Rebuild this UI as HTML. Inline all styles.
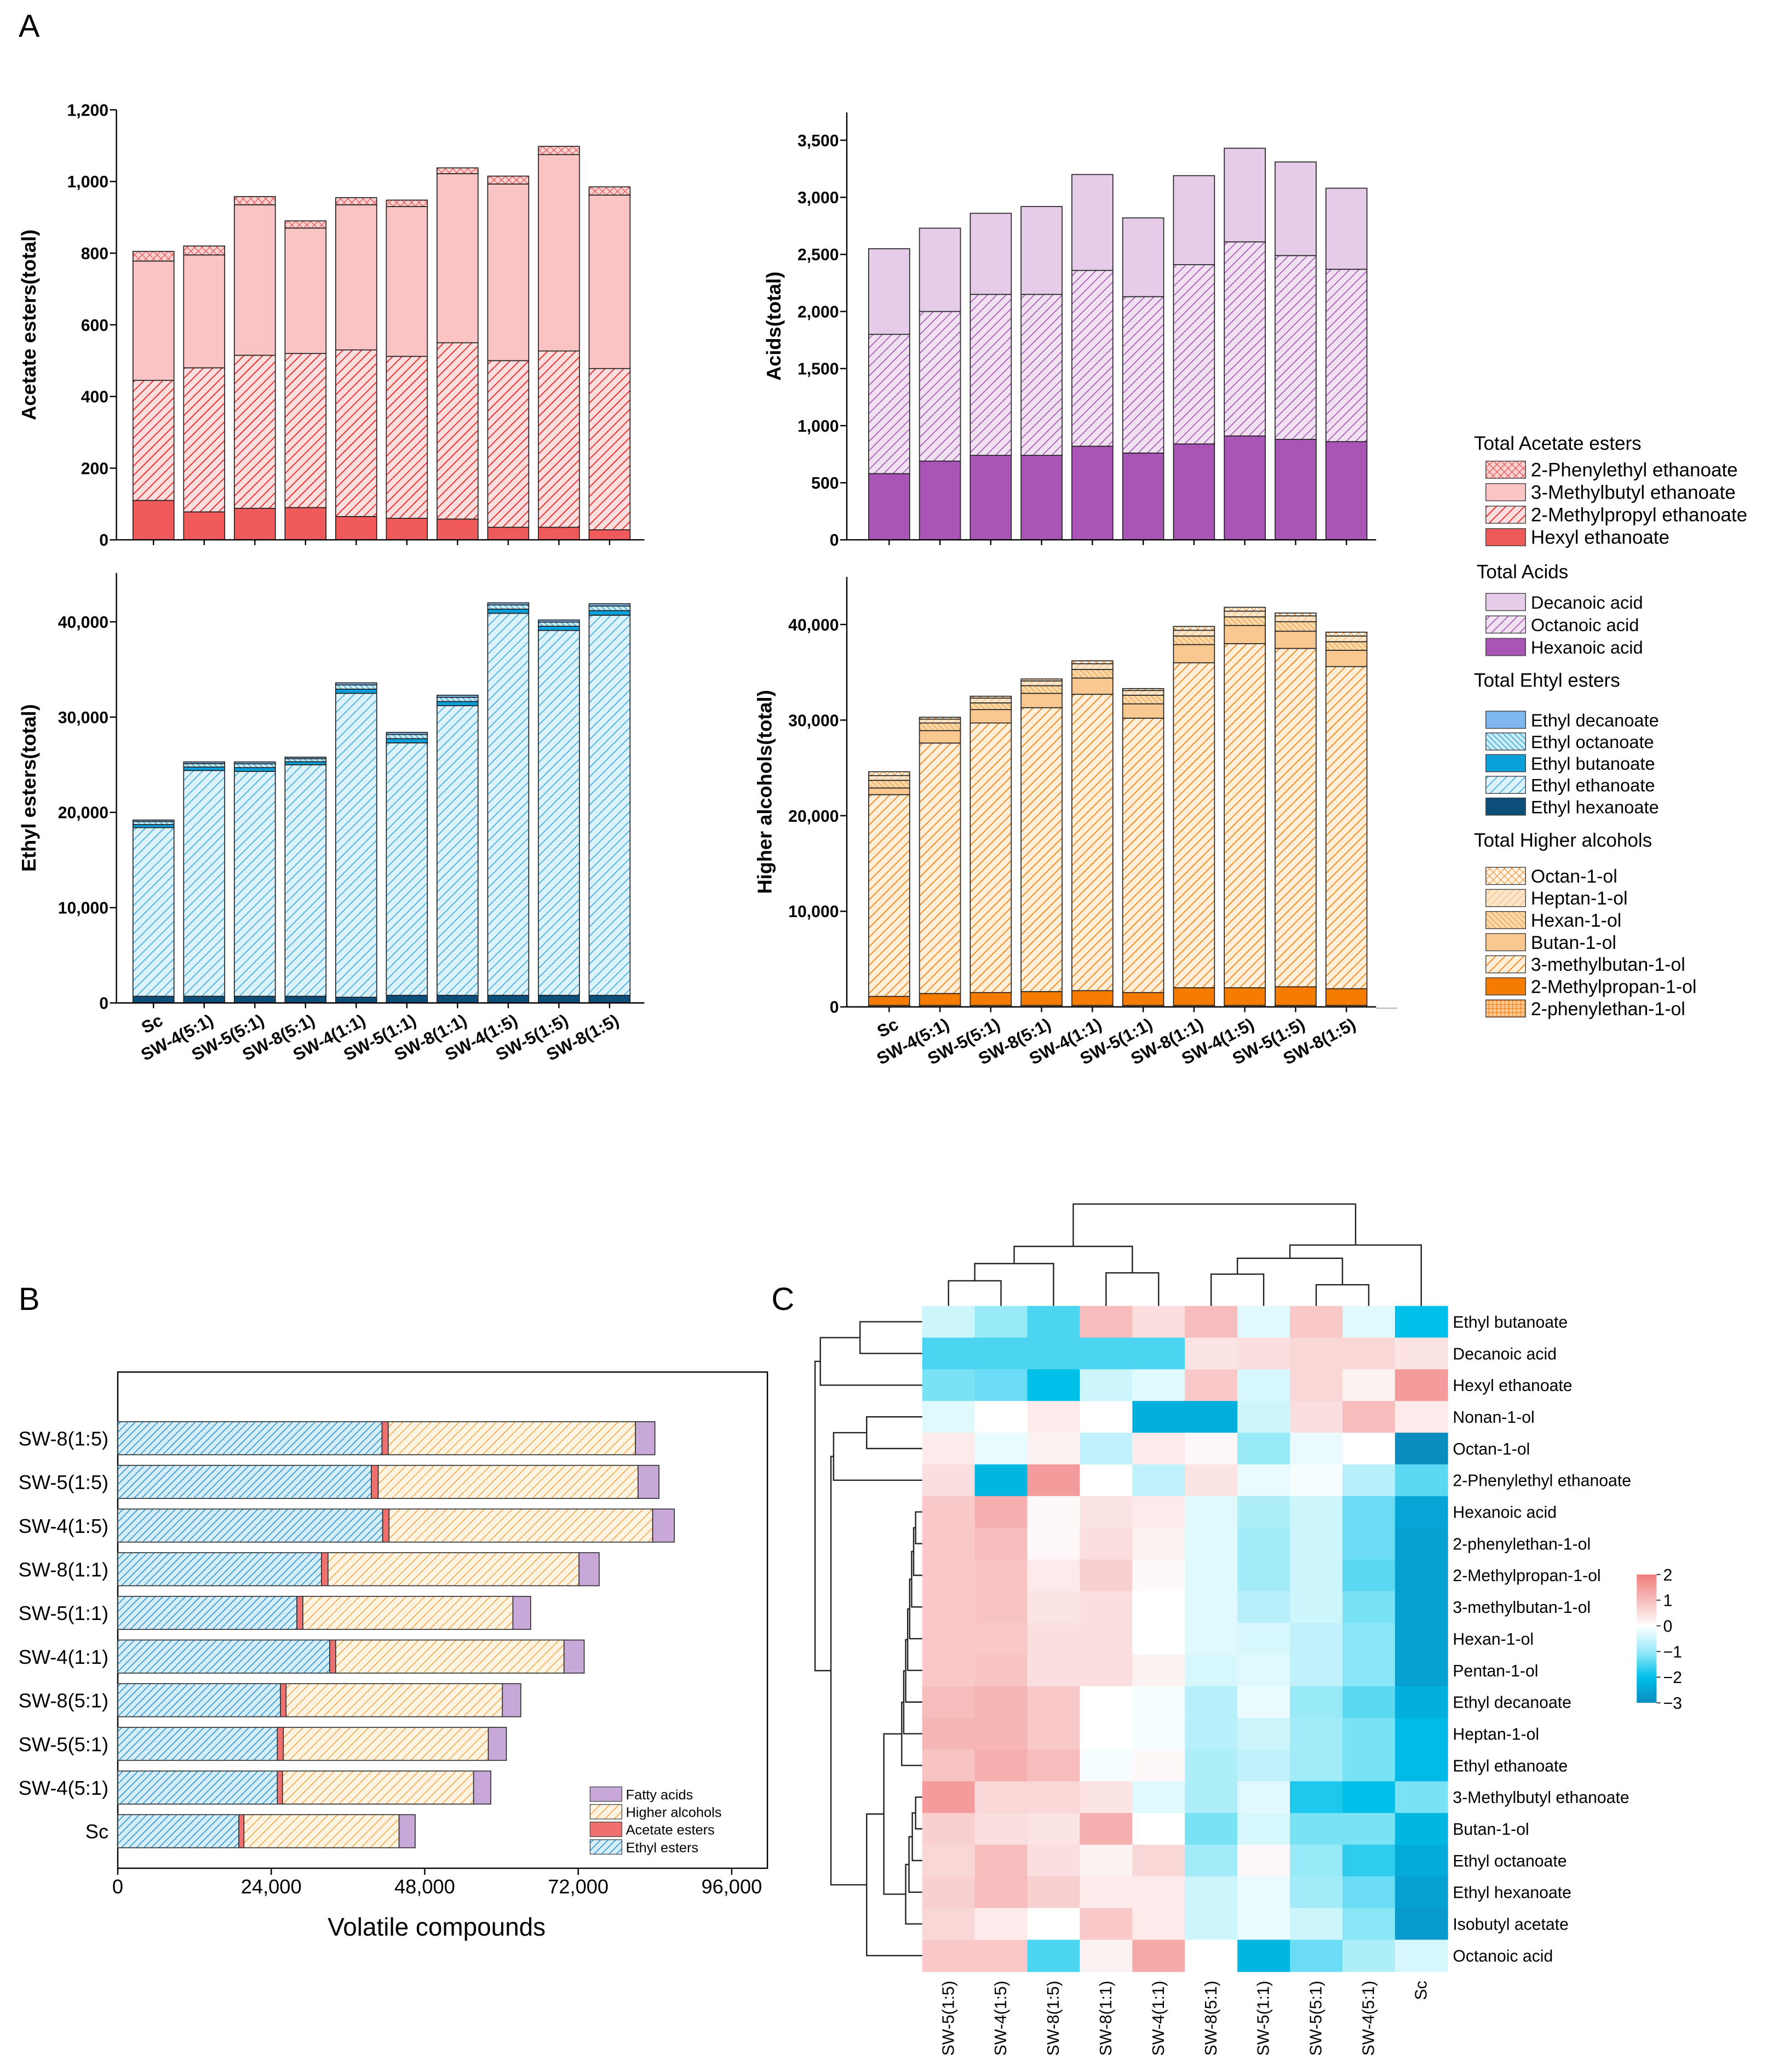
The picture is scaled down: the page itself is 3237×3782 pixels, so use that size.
<!DOCTYPE html>
<html><head><meta charset="utf-8">
<style>
html,body{margin:0;padding:0;background:#fff;}
svg{display:block;font-family:"Liberation Sans",Arial,sans-serif;}
</style></head>
<body>
<svg id="fig" width="3237" height="3782" viewBox="0 0 1340 1566" preserveAspectRatio="none" xmlns="http://www.w3.org/2000/svg">
<defs>
<pattern id="pRedHatch" patternUnits="userSpaceOnUse" width="5" height="5" patternTransform="rotate(45)"><rect width="5" height="5" fill="#fcdede"/><line x1="0" y1="0" x2="0" y2="5" stroke="#e83030" stroke-width="1.6"/></pattern>
<pattern id="pRedCross" patternUnits="userSpaceOnUse" width="4" height="4" patternTransform="rotate(45)"><rect width="4" height="4" fill="#fbd0d0"/><line x1="0" y1="0" x2="0" y2="4" stroke="#e84040" stroke-width="0.9"/><line x1="0" y1="0" x2="4" y2="0" stroke="#e84040" stroke-width="0.9"/></pattern>
<pattern id="pPurHatch" patternUnits="userSpaceOnUse" width="5" height="5" patternTransform="rotate(45)"><rect width="5" height="5" fill="#f0e0f2"/><line x1="0" y1="0" x2="0" y2="5" stroke="#a050b0" stroke-width="1.3"/></pattern>
<pattern id="pBlueHatch" patternUnits="userSpaceOnUse" width="5" height="5" patternTransform="rotate(45)"><rect width="5" height="5" fill="#dcf2fc"/><line x1="0" y1="0" x2="0" y2="5" stroke="#3aa6dc" stroke-width="1.3"/></pattern>
<pattern id="pBlueDense" patternUnits="userSpaceOnUse" width="3" height="3" patternTransform="rotate(-45)"><rect width="3" height="3" fill="#c8ecfa"/><line x1="0" y1="0" x2="0" y2="3" stroke="#1a90c8" stroke-width="1"/></pattern>
<pattern id="pOrHatch" patternUnits="userSpaceOnUse" width="5" height="5" patternTransform="rotate(45)"><rect width="5" height="5" fill="#ffeed8"/><line x1="0" y1="0" x2="0" y2="5" stroke="#f08010" stroke-width="1.4"/></pattern>
<pattern id="pOrBack" patternUnits="userSpaceOnUse" width="3" height="3" patternTransform="rotate(-45)"><rect width="3" height="3" fill="#fbd8a8"/><line x1="0" y1="0" x2="0" y2="3" stroke="#f09030" stroke-width="0.9"/></pattern>
<pattern id="pOrLight" patternUnits="userSpaceOnUse" width="4" height="4" patternTransform="rotate(45)"><rect width="4" height="4" fill="#fde6c8"/><line x1="0" y1="0" x2="0" y2="4" stroke="#f4b070" stroke-width="0.8"/></pattern>
<pattern id="pOrCross" patternUnits="userSpaceOnUse" width="4" height="4" patternTransform="rotate(45)"><rect width="4" height="4" fill="#fff4e6"/><line x1="0" y1="0" x2="0" y2="4" stroke="#f08a20" stroke-width="0.9"/><line x1="0" y1="0" x2="4" y2="0" stroke="#f08a20" stroke-width="0.9"/></pattern>
<pattern id="pOrGrid" patternUnits="userSpaceOnUse" width="3" height="3"><rect width="3" height="3" fill="#fcc890"/><line x1="0" y1="0" x2="0" y2="3" stroke="#f07a10" stroke-width="0.9"/><line x1="0" y1="0" x2="3" y2="0" stroke="#f07a10" stroke-width="0.9"/></pattern>
<pattern id="pBBlue" patternUnits="userSpaceOnUse" width="4" height="4" patternTransform="rotate(45)"><rect width="4" height="4" fill="#d6eef9"/><line x1="0" y1="0" x2="0" y2="4" stroke="#2a90cc" stroke-width="1.3"/></pattern>
<pattern id="pBOr" patternUnits="userSpaceOnUse" width="5" height="5" patternTransform="rotate(45)"><rect width="5" height="5" fill="#fff4e2"/><line x1="0" y1="0" x2="0" y2="5" stroke="#f5a040" stroke-width="1.2"/></pattern>
<linearGradient id="cbar" x1="0" y1="0" x2="0" y2="1">
<stop offset="0" stop-color="#f07c7c"/><stop offset="0.2" stop-color="#f7bcbc"/><stop offset="0.4" stop-color="#ffffff"/><stop offset="0.6" stop-color="#98eaf8"/><stop offset="0.8" stop-color="#00c0ea"/><stop offset="1" stop-color="#0a8cc0"/>
</linearGradient>
</defs>
<g id="root"></g>
</svg>
<script>
// ---------------- DATA ----------------
const categories = ['Sc','SW-4(5:1)','SW-5(5:1)','SW-8(5:1)','SW-4(1:1)','SW-5(1:1)','SW-8(1:1)','SW-4(1:5)','SW-5(1:5)','SW-8(1:5)'];
// Acetate esters
const hexylEthanoate = [110,78,88,90,65,60,58,35,35,28];
const methylpropylEthanoate = [335,402,427,430,465,452,492,465,492,450];
const methylbutylEthanoate = [333,315,420,350,405,418,472,493,548,484];
const phenylethylEthanoate = [27,25,23,20,20,18,16,22,23,23];
// Acids
const hexanoicAcid = [580,690,740,740,820,760,840,910,880,860];
const octanoicAcid = [1220,1310,1410,1410,1540,1370,1570,1700,1610,1510];
const decanoicAcid = [750,730,710,770,840,690,780,820,820,710];
// Ethyl esters
const ethylHexanoate = [700,700,700,700,600,800,800,800,800,800];
const ethylEthanoate = [17700,23700,23600,24300,31900,26500,30400,40100,38300,39900];
const ethylButanoate = [320,360,400,320,440,440,440,440,440,480];
const ethylOctanoate = [320,360,400,320,440,440,440,440,440,480];
const ethylDecanoate = [160,180,200,160,220,220,220,220,220,240];
// Higher alcohols
const phenylethanol = [150,150,150,150,150,150,150,150,150,150];
const methylpropanol = [950,1250,1350,1450,1550,1350,1850,1850,1950,1750];
const methylbutanol = [21100,26200,28200,29700,31000,28700,34000,36000,35400,33700];
const butanol = [700,1300,1400,1500,1700,1500,1900,1900,1800,1700];
const hexanol = [800,800,700,800,900,900,900,900,1000,900];
const heptanol = [500,400,500,500,600,500,600,600,600,600];
const octanol = [400,200,200,200,300,200,400,400,300,400];
const tickA1 = [0,200,400,600,800,1000,1200];
const tickA2 = [0,500,1000,1500,2000,2500,3000,3500];
const tick40k = [0,10000,20000,30000,40000];
const tickB = [0,24000,48000,72000,96000];
// Heatmap
const hmCols = ['SW-5(1:5)','SW-4(1:5)','SW-8(1:5)','SW-8(1:1)','SW-4(1:1)','SW-8(5:1)','SW-5(1:1)','SW-5(5:1)','SW-4(5:1)','Sc'];
const hmRows = ['Ethyl butanoate','Decanoic acid','Hexyl ethanoate','Nonan-1-ol','Octan-1-ol','2-Phenylethyl ethanoate','Hexanoic acid','2-phenylethan-1-ol','2-Methylpropan-1-ol','3-methylbutan-1-ol','Hexan-1-ol','Pentan-1-ol','Ethyl decanoate','Heptan-1-ol','Ethyl ethanoate','3-Methylbutyl ethanoate','Butan-1-ol','Ethyl octanoate','Ethyl hexanoate','Isobutyl acetate','Octanoic acid'];
const hmValues = [
[-0.5,-1,-1.5,1,0.5,1,-0.3,0.8,-0.3,-2],
[-1.5,-1.5,-1.5,-1.5,-1.5,0.4,0.5,0.6,0.6,0.4],
[-1.2,-1.3,-2,-0.5,-0.3,0.8,-0.4,0.6,0.2,1.5],
[-0.3,0,0.3,0,-2.3,-2.3,-0.5,0.5,1,0.3],
[0.3,-0.2,0.2,-0.6,0.3,0.1,-1,-0.2,0,-3],
[0.5,-2.2,1.5,0,-0.6,0.4,-0.2,-0.1,-0.7,-1.4],
[0.8,1.2,0.1,0.4,0.3,-0.3,-0.8,-0.5,-1.3,-2.5],
[0.8,1,0.1,0.5,0.2,-0.3,-0.9,-0.5,-1.3,-2.6],
[0.8,0.9,0.3,0.7,0.1,-0.3,-0.9,-0.5,-1.4,-2.6],
[0.8,0.9,0.4,0.5,0,-0.3,-0.7,-0.5,-1.2,-2.6],
[0.8,0.8,0.5,0.5,0,-0.3,-0.4,-0.6,-1.1,-2.6],
[0.8,0.9,0.5,0.5,0.2,-0.4,-0.3,-0.6,-1.1,-2.6],
[1,1.1,0.8,0,-0.1,-0.7,-0.2,-1,-1.4,-2.3],
[1.1,1.1,0.8,0,-0.1,-0.7,-0.5,-0.9,-1.2,-2.1],
[0.9,1.2,1,-0.1,0.1,-0.8,-0.6,-0.9,-1.2,-2.1],
[1.5,0.6,0.6,0.4,-0.3,-0.8,-0.3,-1.8,-2,-1.2],
[0.7,0.5,0.4,1.2,0,-1.2,-0.4,-1.2,-1.2,-2.2],
[0.6,1,0.5,0.2,0.6,-0.9,0.1,-1,-1.7,-2.4],
[0.7,1,0.7,0.3,0.3,-0.5,-0.2,-0.9,-1.3,-2.6],
[0.6,0.3,0,0.8,0.3,-0.5,-0.2,-0.5,-1.1,-2.7],
[0.8,0.8,-1.5,0.2,1.3,0,-2.2,-1.3,-0.8,-0.4]
];
const cbTicks = [2,1,0,-1,-2,-3];

// ---------------- HELPERS ----------------
const NS='http://www.w3.org/2000/svg';
const root=document.getElementById('root');
function mk(tag,attrs,parent){const e=document.createElementNS(NS,tag);for(const k in attrs)e.setAttribute(k,attrs[k]);(parent||root).appendChild(e);return e;}
function txt(s,attrs,parent){const e=mk('text',attrs,parent);e.textContent=s;return e;}
function fmt(v){return v.toLocaleString('en-US');}

// ---------------- STACKED VERTICAL CHART ----------------
function stackChart(cfg){
  const g=mk('g',{});
  
  
  const yS=v=>cfg.y0-v*(cfg.y0-cfg.yTop)/cfg.max;
  const xS=i=>cfg.xFirst+i*cfg.step;
  categories.forEach((c,i)=>{
    let acc=0;
    cfg.series.forEach(s=>{
      const v=s.data[i];
      const r=mk('rect',{x:xS(i)-cfg.bw/2,y:yS(acc+v),width:cfg.bw,height:Math.max(0,yS(acc)-yS(acc+v)),fill:s.fill,stroke:'#222','stroke-width':0.7},g);
      
      
      acc+=v;
    });
  });
  const ax=mk('g',{},g);
  
  
  mk('line',{x1:cfg.xAxis,y1:cfg.yAxisTop,x2:cfg.xAxis,y2:cfg.y0,stroke:'#000','stroke-width':1},ax);
  mk('line',{x1:cfg.xAxis,y1:cfg.y0,x2:cfg.xEnd,y2:cfg.y0,stroke:'#000','stroke-width':1},ax);
  cfg.ticks.forEach(t=>{
    mk('line',{x1:cfg.xAxis-5,y1:yS(t),x2:cfg.xAxis,y2:yS(t),stroke:'#000','stroke-width':1},ax);
    const tl=txt(fmt(t),{x:cfg.xAxis-6,y:yS(t)+4.5,'text-anchor':'end','font-size':12.5,'font-weight':'bold'},ax);
    
    
  });
  categories.forEach((c,i)=>{
    mk('line',{x1:xS(i),y1:cfg.y0,x2:xS(i),y2:cfg.y0+4,stroke:'#000','stroke-width':1},ax);
    if(cfg.catLabels){
      const x=xS(i)+8,y=cfg.y0+16;
      const cl=txt(c,{x:x,y:y,'text-anchor':'end','font-size':13,'font-weight':'bold',transform:`rotate(-28 ${x} ${y})`},ax);
      
      
    }
  });
  const yt=txt(cfg.ylabel,{x:cfg.ylx,y:(cfg.y0+cfg.yAxisTop)/2,'text-anchor':'middle','font-size':15,'font-weight':'bold',transform:`rotate(-90 ${cfg.ylx} ${(cfg.y0+cfg.yAxisTop)/2})`},g);
  
  
}

stackChart({name:'acetate-esters-chart',xAxis:88,xEnd:487,xFirst:116,step:38.3,bw:31,y0:408,yTop:83,yAxisTop:83,max:1200,ticks:tickA1,ylabel:'Acetate esters(total)',ylx:27,catLabels:false,
 series:[{key:'hexyl',data:hexylEthanoate,fill:'#f05a5a'},{key:'2mp',data:methylpropylEthanoate,fill:'url(#pRedHatch)'},{key:'3mb',data:methylbutylEthanoate,fill:'#fbc4c4'},{key:'2pe',data:phenylethylEthanoate,fill:'url(#pRedCross)'}]});
stackChart({name:'acids-chart',xAxis:640,xEnd:1040,xFirst:672,step:38.4,bw:31,y0:408,yTop:106,yAxisTop:85,max:3500,ticks:tickA2,ylabel:'Acids(total)',ylx:590,catLabels:false,
 series:[{key:'hexanoic',data:hexanoicAcid,fill:'#a855b5'},{key:'octanoic',data:octanoicAcid,fill:'url(#pPurHatch)'},{key:'decanoic',data:decanoicAcid,fill:'#e6cce8'}]});
stackChart({name:'ethyl-esters-chart',xAxis:88,xEnd:487,xFirst:116,step:38.3,bw:31,y0:758,yTop:470,yAxisTop:433,max:40000,ticks:tick40k,ylabel:'Ethyl esters(total)',ylx:27,catLabels:true,
 series:[{key:'hexanoate',data:ethylHexanoate,fill:'#0b4f7a'},{key:'ethanoate',data:ethylEthanoate,fill:'url(#pBlueHatch)'},{key:'butanoate',data:ethylButanoate,fill:'#0aa0dc'},{key:'octanoate',data:ethylOctanoate,fill:'url(#pBlueDense)'},{key:'decanoate',data:ethylDecanoate,fill:'#7fb8f0'}]});
stackChart({name:'higher-alcohols-chart',xAxis:640,xEnd:1040,xFirst:672,step:38.4,bw:31,y0:761,yTop:472,yAxisTop:436,max:40000,ticks:tick40k,ylabel:'Higher alcohols(total)',ylx:583,catLabels:true,
 series:[{key:'phenylethanol',data:phenylethanol,fill:'url(#pOrGrid)'},{key:'methylpropanol',data:methylpropanol,fill:'#f57c00'},{key:'methylbutanol',data:methylbutanol,fill:'url(#pOrHatch)'},{key:'butanol',data:butanol,fill:'#f8c890'},{key:'hexanol',data:hexanol,fill:'url(#pOrBack)'},{key:'heptanol',data:heptanol,fill:'url(#pOrLight)'},{key:'octanol',data:octanol,fill:'url(#pOrCross)'}]});
mk('line',{x1:1040,y1:762,x2:1056,y2:762,stroke:'#bbb','stroke-width':1});

// ---------------- LEGEND A ----------------
const legA=mk('g',{});


const legGroups=[
 {title:'Total Acetate esters',ty:340,items:[['2-Phenylethyl ethanoate','url(#pRedCross)'],['3-Methylbutyl ethanoate','#fbc4c4'],['2-Methylpropyl ethanoate','url(#pRedHatch)'],['Hexyl ethanoate','#f05a5a']],y0:355,dy:17,fs:14.5},
 {title:'Total Acids',ty:437,items:[['Decanoic acid','#e6cce8'],['Octanoic acid','url(#pPurHatch)'],['Hexanoic acid','#a855b5']],y0:455,dy:17,fs:13.5},
 {title:'Total Ehtyl esters',ty:519,items:[['Ethyl decanoate','#7fb8f0'],['Ethyl octanoate','url(#pBlueDense)'],['Ethyl butanoate','#0aa0dc'],['Ethyl ethanoate','url(#pBlueHatch)'],['Ethyl hexanoate','#0b4f7a']],y0:544,dy:16.4,fs:13.5},
 {title:'Total Higher alcohols',ty:640,items:[['Octan-1-ol','url(#pOrCross)'],['Heptan-1-ol','url(#pOrLight)'],['Hexan-1-ol','url(#pOrBack)'],['Butan-1-ol','#f8c890'],['3-methylbutan-1-ol','url(#pOrHatch)'],['2-Methylpropan-1-ol','#f57c00'],['2-phenylethan-1-ol','url(#pOrGrid)']],y0:662,dy:16.7,fs:14}
];
legGroups.forEach(gr=>{
  const tt=txt(gr.title,{x:gr.title==='Total Acids'?1116:1114,y:gr.ty,'font-size':14.5},legA);
  
  
  gr.items.forEach((it,k)=>{
    const y=gr.y0+k*gr.dy;
    const sw=mk('rect',{x:1123,y:y-6.5,width:30,height:13,fill:it[1],stroke:'#444','stroke-width':0.6},legA);
    
    
    const lt=txt(it[0],{x:1157,y:y+5,'font-size':gr.fs},legA);
    
    
  });
});

// ---------------- PANEL LETTERS ----------------
[['A',14,28],['B',14,990],['C',583,990]].forEach(p=>{
  const t=txt(p[0],{x:p[1],y:p[2],'font-size':24});
  
  
});

// ---------------- PANEL B ----------------
const gB=mk('g',{});


const bx=v=>89+v*116/24000;
const bxBar=v=>89+v*114.4/24000;
const by=i=>1384-i*33;
mk('rect',{x:89,y:1037,width:491,height:375,fill:'none',stroke:'#000','stroke-width':1},gB);
const bSeries=[
 {key:'ethyl-esters',fill:'url(#pBBlue)',get:i=>ethylHexanoate[i]+ethylEthanoate[i]+ethylButanoate[i]+ethylOctanoate[i]+ethylDecanoate[i]},
 {key:'acetate-esters',fill:'#f07070',get:i=>hexylEthanoate[i]+methylpropylEthanoate[i]+methylbutylEthanoate[i]+phenylethylEthanoate[i]},
 {key:'higher-alcohols',fill:'url(#pBOr)',get:i=>phenylethanol[i]+methylpropanol[i]+methylbutanol[i]+butanol[i]+hexanol[i]+heptanol[i]+octanol[i]},
 {key:'fatty-acids',fill:'#c8a8d8',get:i=>hexanoicAcid[i]+octanoicAcid[i]+decanoicAcid[i]}
];
categories.forEach((c,i)=>{
  let acc=0;
  bSeries.forEach(s=>{
    const v=s.get(i);
    const r=mk('rect',{x:bxBar(acc),y:by(i)-12.5,width:bxBar(acc+v)-bxBar(acc),height:25,fill:s.fill,stroke:'#333','stroke-width':0.7},gB);
    
    
    acc+=v;
  });
  const cl=txt(c,{x:82,y:by(i)+5.5,'text-anchor':'end','font-size':15},gB);
  
  
});
tickB.forEach(t=>{
  mk('line',{x1:bx(t),y1:1412,x2:bx(t),y2:1417,stroke:'#000','stroke-width':1},gB);
  const tl=txt(fmt(t),{x:bx(t),y:1431,'text-anchor':'middle','font-size':15},gB);
  
  
});
const bxt=txt('Volatile compounds',{x:330,y:1463,'text-anchor':'middle','font-size':19},gB);


const bLeg=[['Fatty acids','#c8a8d8'],['Higher alcohols','url(#pBOr)'],['Acetate esters','#f07070'],['Ethyl esters','url(#pBBlue)']];
bLeg.forEach((l,k)=>{
  const y=1356+k*13.3;
  const sw=mk('rect',{x:446,y:y-5.5,width:24,height:11,fill:l[1],stroke:'#555','stroke-width':0.6},gB);
  
  
  const lt=txt(l[0],{x:473,y:y+4,'font-size':10.5},gB);
  
  
});

// ---------------- PANEL C HEATMAP ----------------
const gC=mk('g',{});


const hx0=697,hx1=1094,hy0=987,hy1=1490;
const cw=(hx1-hx0)/hmCols.length, rh=(hy1-hy0)/hmRows.length;
const stops=[[-3,[10,140,192]],[-2,[0,192,234]],[-1,[152,234,248]],[0,[255,255,255]],[1,[247,188,188]],[2,[240,124,124]]];
function col(v){
  v=Math.max(-3,Math.min(2,v));
  for(let k=0;k<stops.length-1;k++){
    const a=stops[k],b=stops[k+1];
    if(v>=a[0]&&v<=b[0]){const t=(v-a[0])/(b[0]-a[0]);const c=a[1].map((x,j)=>Math.round(x+(b[1][j]-x)*t));return `rgb(${c[0]},${c[1]},${c[2]})`;}
  }
  return '#fff';
}
hmValues.forEach((row,r)=>{
  row.forEach((v,c)=>{
    const cell=mk('rect',{x:hx0+c*cw,y:hy0+r*rh,width:cw+0.4,height:rh+0.4,fill:col(v)},gC);
    
    
  });
  const rl=txt(hmRows[r],{x:1098,y:hy0+(r+0.5)*rh+4.5,'font-size':12.5},gC);
  
  
});
hmCols.forEach((c,k)=>{
  const x=hx0+(k+0.5)*cw+4,y=1497;
  const cl=txt(c,{x:x,y:y,'text-anchor':'end','font-size':12.5,transform:`rotate(-90 ${x} ${y})`},gC);
  
  
});
// dendrograms
const dg=mk('g',{fill:'none',stroke:'#222','stroke-width':1},gC);


const cx=k=>hx0+(k+0.5)*cw;
function ujoin(xa,ya,xb,yb,yj){mk('path',{d:`M${xa},${ya}V${yj}H${xb}V${yb}`},dg);}
ujoin(cx(0),987,cx(1),987,968);
ujoin((cx(0)+cx(1))/2,968,cx(2),987,955);
ujoin(cx(3),987,cx(4),987,962);
const mB=((cx(0)+cx(1))/2+cx(2))/2, mC=(cx(3)+cx(4))/2;
ujoin(mB,955,mC,962,942);
ujoin(cx(5),987,cx(6),987,963);
ujoin(cx(7),987,cx(8),987,971);
const mE=(cx(5)+cx(6))/2,mF=(cx(7)+cx(8))/2;
ujoin(mE,963,mF,971,951);
const mG=(mE+mF)/2;
ujoin(mG,951,cx(9),987,941);
const mD=(mB+mC)/2,mH=(mG+cx(9))/2;
ujoin(mD,942,mH,941,910);
const rg=mk('g',{fill:'none',stroke:'#222','stroke-width':1},gC);


const ry=k=>hy0+(k+0.5)*rh;
function hjoin(ya,xa,yb,xb,xj){mk('path',{d:`M${xa},${ya}H${xj}V${yb}H${xb}`},rg);}
hjoin(ry(0),697,ry(1),697,650);
hjoin((ry(0)+ry(1))/2,650,ry(2),697,620);
hjoin(ry(3),697,ry(4),697,655);
hjoin((ry(3)+ry(4))/2,655,ry(5),697,630);
let cur=ry(6),cx0=697;
for(let k=7;k<=14;k++){const xj=692-(k-7)*1.5;hjoin(cur,cx0,ry(k),697,xj);cur=(cur+ry(k))/2;cx0=xj;}
const mA=cur,xa=cx0;
let cur2=ry(15),cx2=697;
for(let k=16;k<=19;k++){const xj=692-(k-16)*2.5;hjoin(cur2,cx2,ry(k),697,xj);cur2=(cur2+ry(k))/2;cx2=xj;}
hjoin(mA,xa,cur2,cx2,668);
const mAB=(mA+cur2)/2;
hjoin(mAB,668,ry(20),697,655);
const mR=(mAB+ry(20))/2;
const m46=((ry(3)+ry(4))/2+ry(5))/2;
hjoin(m46,630,mR,655,628);
const mTop=(m46+mR)/2, m13=((ry(0)+ry(1))/2+ry(2))/2;
hjoin(m13,620,mTop,628,616);
// colorbar
const cb=mk('g',{},gC);


mk('rect',{x:1237,y:1190,width:15,height:97,fill:'url(#cbar)'},cb);
cbTicks.forEach(t=>{
  const y=1190+(2-t)*97/5;
  mk('line',{x1:1252,y1:y,x2:1255,y2:y,stroke:'#333','stroke-width':0.8},cb);
  const tl=txt(String(t).replace('-','−'),{x:1257,y:y+4.5,'font-size':12.5},cb);
  
  
});
</script>
</body></html>
